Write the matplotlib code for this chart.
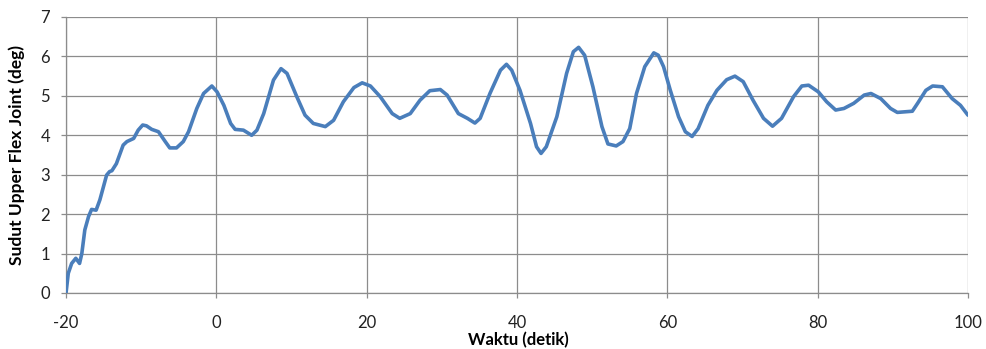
import matplotlib
matplotlib.use("Agg")
import matplotlib.pyplot as plt

# time (s) and upper flex joint angle (deg)
waktu = [-20.0, -19.7, -19.25, -18.7, -18.2, -17.9, -17.5, -17.0, -16.6, -16.0,
         -15.5, -14.6, -14.2, -13.9, -13.3, -12.4, -11.9, -11.0, -10.4, -9.8,
         -9.3, -8.6, -7.7, -6.8, -6.2, -5.3, -4.4, -3.7, -2.6, -1.7,
         -0.6, 0.1, 1.0, 1.9, 2.5, 3.6, 4.7, 5.4, 6.3, 7.6,
         8.6, 9.4, 10.7, 11.8, 12.9, 14.5, 15.6, 16.9, 18.3, 19.4,
         20.5, 21.8, 23.4, 24.4, 25.8, 27.1, 28.4, 29.8, 30.7, 32.2,
         33.4, 34.4, 35.1, 36.4, 37.8, 38.6, 39.3, 40.4, 41.8, 42.6,
         43.2, 43.9, 45.3, 46.6, 47.5, 48.2, 49.0, 50.1, 51.3, 52.1,
         53.2, 54.1, 55.0, 55.9, 57.0, 58.2, 58.8, 59.5, 60.4, 61.5,
         62.4, 63.3, 64.1, 65.4, 66.6, 67.9, 69.0, 70.1, 71.4, 72.8,
         74.0, 75.2, 76.8, 77.9, 78.8, 80.1, 81.2, 82.4, 83.5, 84.8,
         86.2, 87.1, 88.4, 89.7, 90.6, 92.6, 93.3, 94.4, 95.3, 96.6,
         97.9, 99.0, 100.0]
sudut = [0.0, 0.5, 0.75, 0.88, 0.75, 1.0, 1.6, 1.94, 2.12, 2.1,
         2.36, 2.99, 3.08, 3.1, 3.28, 3.75, 3.84, 3.92, 4.13, 4.26,
         4.24, 4.15, 4.09, 3.84, 3.68, 3.68, 3.84, 4.09, 4.68, 5.06,
         5.25, 5.1, 4.76, 4.3, 4.15, 4.13, 4.0, 4.13, 4.55, 5.4,
         5.69, 5.57, 4.98, 4.51, 4.3, 4.22, 4.38, 4.85, 5.21, 5.33,
         5.25, 4.98, 4.55, 4.43, 4.55, 4.89, 5.13, 5.16, 5.02, 4.55,
         4.43, 4.31, 4.43, 5.06, 5.65, 5.8, 5.65, 5.14, 4.3, 3.71,
         3.54, 3.71, 4.47, 5.57, 6.12, 6.23, 6.03, 5.23, 4.22, 3.78,
         3.73, 3.84, 4.17, 5.06, 5.74, 6.09, 6.03, 5.74, 5.14, 4.47,
         4.09, 3.97, 4.17, 4.76, 5.14, 5.41, 5.5, 5.36, 4.89, 4.43,
         4.23, 4.43, 4.98, 5.25, 5.27, 5.1, 4.85, 4.64, 4.68, 4.81,
         5.02, 5.06, 4.93, 4.68, 4.58, 4.61, 4.81, 5.14, 5.25, 5.23,
         4.93, 4.76, 4.51]

x_ticks = [-20, 0, 20, 40, 60, 80, 100]
y_ticks = [0, 1, 2, 3, 4, 5, 6, 7]

plt.rcParams['font.family'] = ['Lato', 'DejaVu Sans']
plt.rcParams['axes.unicode_minus'] = False

fig = plt.figure(figsize=(9.87, 3.49), dpi=100)
ax = fig.add_axes([0.0669, 0.1605, 0.9138, 0.7908])

grid_col = '#8c8c8c'
ax.plot(waktu, sudut, color='#4a7ebb', linewidth=2.6, solid_capstyle='round',
        solid_joinstyle='round', zorder=3)

ax.set_xlim(-20, 100)
ax.set_ylim(0, 7)
ax.set_xticks(x_ticks)
ax.set_yticks(y_ticks)
ax.grid(True, color=grid_col, linewidth=0.9)
ax.set_axisbelow(True)

for side in ['top', 'right']:
    ax.spines[side].set_visible(False)
for side in ['left', 'bottom']:
    ax.spines[side].set_color(grid_col)
    ax.spines[side].set_linewidth(0.9)

ax.tick_params(axis='both', colors=grid_col, length=3.5, width=0.9,
               labelcolor='#222222', labelsize=12)
ax.tick_params(axis='x', pad=12)
ax.tick_params(axis='y', pad=8)

ax.set_xlabel("Waktu (detik)", fontsize=12, fontweight='bold')
ax.set_ylabel("Sudut Upper Flex Joint (deg)", fontsize=12.5, fontweight='bold')
ax.xaxis.set_label_coords(0.501, -0.143)
ax.yaxis.set_label_coords(-0.046, 0.5)

fig.savefig("out.png", dpi=100)
